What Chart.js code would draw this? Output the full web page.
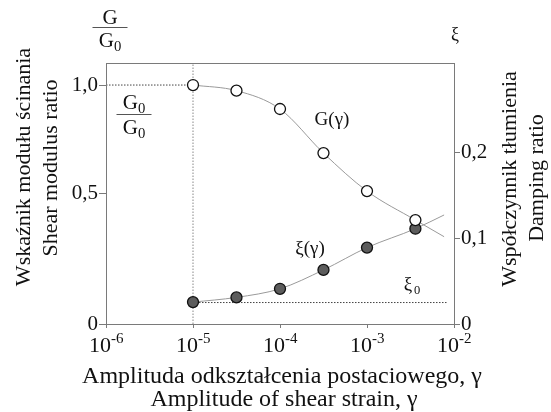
<!DOCTYPE html>
<html lang="pl">
<head>
  <meta charset="UTF-8" />
  <title>G/G0 i ξ</title>
  <script src="https://cdn.jsdelivr.net/npm/chart.js"></script>
  <style>
    html, body { margin: 0; padding: 0; background: #fff; }
    #wrap { width: 551px; height: 412px; }
  </style>
</head>
<body>
  <div id="wrap"><canvas id="wykres"></canvas></div>

  <script>
    // odkształcenie postaciowe (punkty pomiarowe)
    var strain = [1e-5, 3.16e-5, 1e-4, 3.16e-4, 1e-3, 3.6e-3];
    // G/G0 (lewa oś)
    var modulusRatio = [1.0, 0.974, 0.889, 0.685, 0.509, 0.375];
    // ξ (prawa oś)
    var damping = [0.0255, 0.031, 0.041, 0.063, 0.089, 0.111];

    // koniec krzywych za ostatnim punktem
    var curveEndStrain = 7.7e-3;
    var curveEndModulus = 0.298;
    var curveEndDamping = 0.127;

    // linie pomocnicze
    var xi0 = 0.025;
    var xi0EndStrain = 8.3e-3;

    // osie
    var xTicks = [1e-6, 1e-5, 1e-4, 1e-3, 1e-2];
    var xTickExp = ["-6", "-5", "-4", "-3", "-2"];
    var gMin = -0.106, gMax = 1.102;
    var gTickValues = [gMin, 0.5, 1.0];
    var gTickLabels = ["0", "0,5", "1,0"];
    var dMin = 0, dMax = 0.304;
    var dTickValues = [0, 0.1, 0.2];
    var dTickLabels = ["0", "0,1", "0,2"];

    var serif = "'Liberation Serif', 'Times New Roman', serif";
    var axisColor = "#7a7a7a";

    function pts(xs, ys) {
      var out = [];
      for (var i = 0; i < xs.length; i++) out.push({ x: xs[i], y: ys[i] });
      return out;
    }

    var gCurve = pts(strain, modulusRatio).concat([{ x: curveEndStrain, y: curveEndModulus }]);
    var dCurve = pts(strain, damping).concat([{ x: curveEndStrain, y: curveEndDamping }]);

    function text(ctx, s, x, y, size, align, base) {
      ctx.font = size + "px " + serif;
      ctx.textAlign = align || "center";
      ctx.textBaseline = base || "middle";
      ctx.fillText(s, x, y);
    }

    // G z indeksem 0, wyśrodkowane na cx, linia bazowa y
    function gSub(ctx, cx, y, size) {
      ctx.font = size + "px " + serif;
      var gw = ctx.measureText("G").width;
      ctx.font = (size * 0.7) + "px " + serif;
      var sw = ctx.measureText("0").width;
      var left = cx - (gw + sw) / 2;
      text(ctx, "G", left, y, size, "left", "alphabetic");
      text(ctx, "0", left + gw, y + 4, size * 0.7, "left", "alphabetic");
    }

    function fraction(ctx, cx, bar, w, size, numSub) {
      if (numSub) gSub(ctx, cx, bar - 5, size);
      else text(ctx, "G", cx, bar - 3, size, "center", "alphabetic");
      gSub(ctx, cx, bar + 20, size);
      ctx.beginPath();
      ctx.moveTo(cx - w / 2, bar + 0.5);
      ctx.lineTo(cx + w / 2, bar + 0.5);
      ctx.lineWidth = 1;
      ctx.strokeStyle = "#555";
      ctx.stroke();
    }

    function vtitle(ctx, s, x, y, size) {
      ctx.save();
      ctx.translate(x, y);
      ctx.rotate(-Math.PI / 2);
      text(ctx, s, 0, 0, size);
      ctx.restore();
    }

    var extras = {
      id: "extras",
      afterDraw: function (chart) {
        var ctx = chart.ctx;
        var a = chart.chartArea;
        var x = chart.scales.x;
        ctx.save();

        // ramka
        ctx.strokeStyle = axisColor;
        ctx.lineWidth = 1;
        ctx.strokeRect(a.left + 0.5, a.top + 0.5, a.right - a.left, a.bottom - a.top);

        ctx.fillStyle = "#111";

        // etykiety osi X: 10^n
        for (var i = 0; i < xTicks.length; i++) {
          var px = x.getPixelForValue(xTicks[i]);
          text(ctx, "10", px - 6, 346, 22);
          text(ctx, xTickExp[i], px + 5, 339, 15, "left");
        }

        // tytuły osi X
        text(ctx, "Amplituda odkształcenia postaciowego, γ", 282, 377, 24);
        text(ctx, "Amplitude of shear strain, γ", 284, 400, 24);

        // tytuły osi Y
        vtitle(ctx, "Wskaźnik modułu ścinania", 24, 167, 22);
        vtitle(ctx, "Shear modulus ratio", 51, 168, 22);
        vtitle(ctx, "Współczynnik tłumienia", 510, 179, 22);
        vtitle(ctx, "Damping ratio", 537, 178, 22);

        // ułamki G/G0 i G0/G0
        fraction(ctx, 110, 27, 35, 21, false);
        fraction(ctx, 134, 114, 35, 21, true);

        // ξ nad prawą osią
        text(ctx, "ξ", 455, 35, 18);

        // opisy krzywych
        text(ctx, "G(γ)", 332, 120, 19);
        text(ctx, "ξ(γ)", 310, 249, 19);
        text(ctx, "ξ", 408, 285, 19);
        text(ctx, "0", 417, 291, 12.5);

        ctx.restore();
      }
    };

    new Chart(document.getElementById("wykres"), {
      type: "line",
      data: {
        datasets: [
          {
            data: pts(strain, modulusRatio),
            yAxisID: "yL",
            showLine: false,
            pointRadius: 5.5,
            pointBackgroundColor: "#ffffff",
            pointBorderColor: "#111",
            pointBorderWidth: 1.3,
            order: 0
          },
          {
            data: pts(strain, damping),
            yAxisID: "yR",
            showLine: false,
            pointRadius: 5.5,
            pointBackgroundColor: "#5c5c5c",
            pointBorderColor: "#111",
            pointBorderWidth: 1.3,
            order: 0
          },
          {
            data: gCurve,
            yAxisID: "yL",
            borderColor: "#9a9a9a",
            borderWidth: 1,
            pointRadius: 0,
            cubicInterpolationMode: "monotone",
            order: 1
          },
          {
            data: dCurve,
            yAxisID: "yR",
            borderColor: "#9a9a9a",
            borderWidth: 1,
            pointRadius: 0,
            cubicInterpolationMode: "monotone",
            order: 1
          },
          {
            // pionowa linia przy 10^-5
            data: [{ x: strain[0], y: gMin }, { x: strain[0], y: gMax }],
            yAxisID: "yL",
            borderColor: "#888",
            borderWidth: 1,
            borderDash: [1.5, 1.5],
            pointRadius: 0,
            order: 2
          },
          {
            // G/G0 = 1
            data: [{ x: xTicks[0], y: 1.0 }, { x: strain[0], y: 1.0 }],
            yAxisID: "yL",
            borderColor: "#444",
            borderWidth: 1,
            borderDash: [1.5, 1.5],
            pointRadius: 0,
            order: 2
          },
          {
            // ξ0
            data: [{ x: strain[0], y: xi0 }, { x: xi0EndStrain, y: xi0 }],
            yAxisID: "yR",
            borderColor: "#444",
            borderWidth: 1,
            borderDash: [1.5, 1.5],
            pointRadius: 0,
            order: 2
          }
        ]
      },
      options: {
        responsive: true,
        maintainAspectRatio: false,
        animation: false,
        layout: { padding: { top: 63, left: 0, right: 0, bottom: 0 } },
        plugins: {
          legend: { display: false },
          tooltip: { enabled: false }
        },
        scales: {
          x: {
            type: "logarithmic",
            min: 1e-6,
            max: 1e-2,
            afterBuildTicks: function (s) {
              s.ticks = xTicks.map(function (v) { return { value: v }; });
            },
            afterFit: function (s) { s.height = 88; },
            ticks: {
              callback: function () { return ""; },
              autoSkip: false,
              maxRotation: 0
            },
            grid: {
              drawOnChartArea: false,
              color: axisColor,
              tickLength: 4
            },
            border: { color: axisColor }
          },
          yL: {
            position: "left",
            min: gMin,
            max: gMax,
            afterBuildTicks: function (s) {
              s.ticks = gTickValues.map(function (v) { return { value: v }; });
            },
            afterFit: function (s) { s.width = 106; },
            ticks: {
              callback: function (v, i) { return gTickLabels[i]; },
              color: "#111",
              font: { family: serif, size: 21 },
              padding: 1
            },
            grid: {
              drawOnChartArea: false,
              color: axisColor,
              tickLength: 7
            },
            border: { color: axisColor }
          },
          yR: {
            position: "right",
            min: dMin,
            max: dMax,
            afterBuildTicks: function (s) {
              s.ticks = dTickValues.map(function (v) { return { value: v }; });
            },
            afterFit: function (s) { s.width = 97; },
            ticks: {
              callback: function (v, i) { return dTickLabels[i]; },
              color: "#111",
              font: { family: serif, size: 21 },
              padding: 1
            },
            grid: {
              drawOnChartArea: false,
              color: axisColor,
              tickLength: 6
            },
            border: { color: axisColor }
          }
        }
      },
      plugins: [extras]
    });
  </script>
</body>
</html>
